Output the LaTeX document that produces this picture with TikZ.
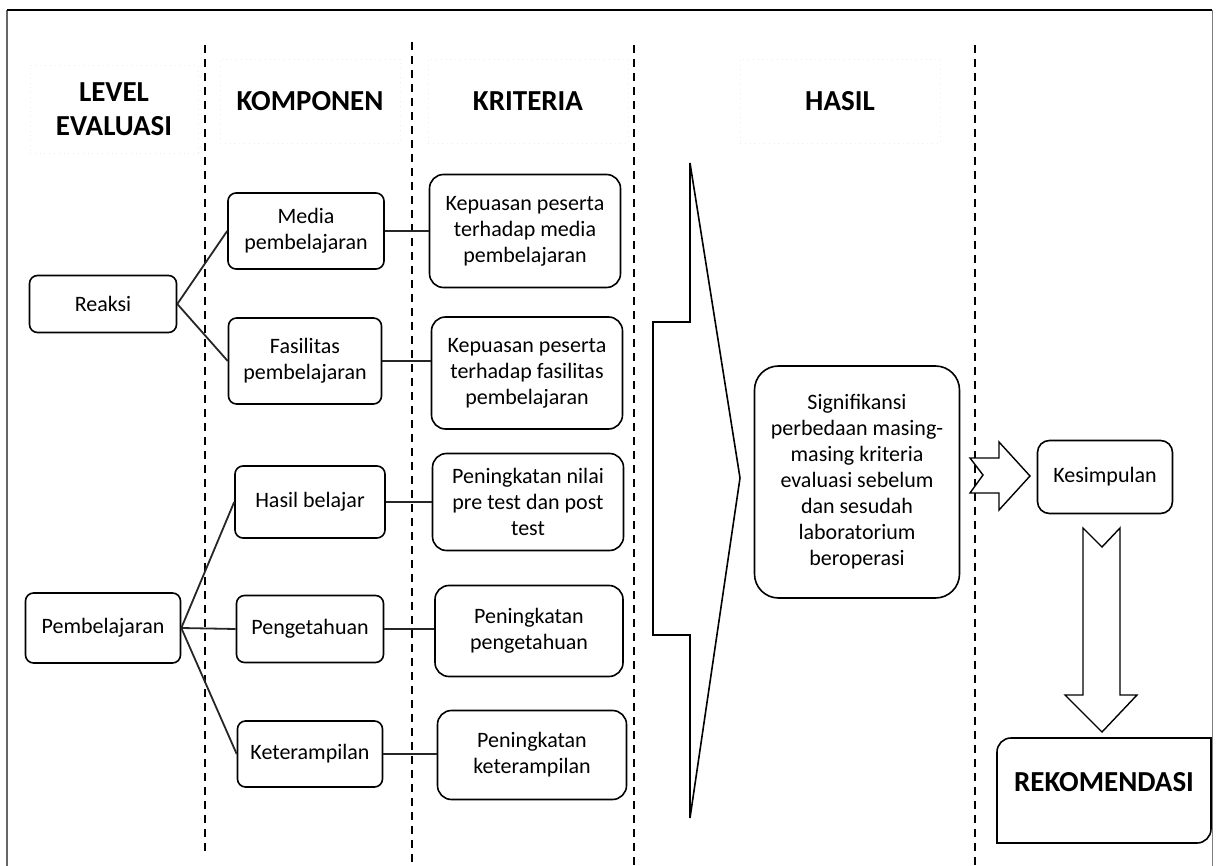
\documentclass[tikz,border=0pt]{standalone}
\usepackage{fontspec}
\setmainfont{Carlito}
\tikzset{
  box/.style={draw, line width=0.8pt, rounded corners=4pt, align=center, inner sep=0pt,
    font=\fontsize{11}{13}\selectfont},
  bigbox/.style={box, rounded corners=7pt},
  head/.style={draw=black!7, dotted, align=center, inner sep=0pt,
    font=\bfseries\fontsize{14.5}{17}\selectfont},
  divider/.style={dashed, line width=0.8pt, dash pattern=on 4pt off 3pt},
  link/.style={line width=0.9pt, black!85},
  hollow/.style={draw, line width=0.7pt, fill=white}
}
\begin{document}
\begin{tikzpicture}[x=0.5pt, y=-0.5pt]
\useasboundingbox (0,0) rectangle (1216,866);
% frame
\draw[black!60, line width=0.6pt] (7,866) -- (7,10);
\draw[black!50, line width=0.5pt] (1212,10) -- (1212,866);
\draw[line width=1.4pt] (7,10) -- (1212,10);
% columns
\draw[divider] (205,45) -- (205,855);
\draw[divider] (412,42) -- (412,866);
\draw[divider] (634,45) -- (634,866);
\draw[divider] (975,45) -- (975,866);
% headings
\node[head, minimum width=84pt, minimum height=44pt] (hlevel) at (114,109) {LEVEL\\EVALUASI};
\node[head, minimum width=90pt, minimum height=42pt] (hkomp) at (310,101) {KOMPONEN};
\node[head, minimum width=100pt, minimum height=42pt] (hkrit) at (528,101) {KRITERIA};
\node[head, minimum width=100pt, minimum height=42pt] (hhasil) at (840,101) {HASIL};
% level
\node[box, minimum width=73.5pt, minimum height=28.5pt] (reaksi) at (103,304) {Reaksi};
\node[box, minimum width=77.5pt, minimum height=35pt] (pemb) at (103,628) {Pembelajaran};
% komponen
\node[box, minimum width=78pt, minimum height=38pt] (media) at (306,231) {Media\\pembelajaran};
\node[box, minimum width=76.5pt, minimum height=43pt] (fasil) at (305,361) {Fasilitas\\pembelajaran};
\node[box, minimum width=75pt, minimum height=36pt] (hbel) at (310,502) {Hasil belajar};
\node[box, minimum width=73.5pt, minimum height=33.5pt] (penget) at (310,629) {Pengetahuan};
\node[box, minimum width=72.5pt, minimum height=33pt] (ketr) at (310,754) {Keterampilan};
% kriteria
\node[bigbox, minimum width=95.5pt, minimum height=56.5pt] (kmedia) at (525,231) {Kepuasan peserta\\terhadap media\\pembelajaran};
\node[bigbox, minimum width=95.5pt, minimum height=56pt] (kfasil) at (527,373) {Kepuasan peserta\\terhadap fasilitas\\pembelajaran};
\node[bigbox, minimum width=95.5pt, minimum height=48.5pt] (knilai) at (528,502) {Peningkatan nilai\\pre test dan post\\test};
\node[bigbox, minimum width=94pt, minimum height=45.5pt] (kpeng) at (529,631) {Peningkatan\\pengetahuan};
\node[bigbox, minimum width=94.5pt, minimum height=44.5pt] (kketr) at (532,755) {Peningkatan\\keterampilan};
% hasil
\node[box, rounded corners=12pt, minimum width=102.5pt, minimum height=116pt] (signif) at (857,482)
  {Signifikansi\\perbedaan masing-\\masing kriteria\\evaluasi sebelum\\dan sesudah\\laboratorium\\beroperasi};
\node[box, rounded corners=6pt, minimum width=67.5pt, minimum height=36.5pt] (simpul) at (1105,477) {Kesimpulan};
\draw[line width=0.8pt] (997,843) -- (997,752) arc (180:270:14) -- (1211,738) -- (1211,829) arc (0:90:14) -- cycle;
\node[font=\bfseries\fontsize{14.5}{17}\selectfont] (rekom) at (1104,782) {REKOMENDASI};
% links
\draw[link] (reaksi.east) -- (media.west);
\draw[link] (reaksi.east) -- (fasil.west);
\draw[link] (pemb.east) -- (hbel.west);
\draw[link] (pemb.east) -- (penget.west);
\draw[link] (pemb.east) -- (ketr.west);
\draw[link] (media.east) -- (kmedia.west |- media.east);
\draw[link] (fasil.east) -- (kfasil.west |- fasil.east);
\draw[link] (hbel.east) -- (knilai.west |- hbel.east);
\draw[link] (penget.east) -- (kpeng.west |- penget.east);
\draw[link] (ketr.east) -- (kketr.west |- ketr.east);
% big arrow
\draw[line width=0.8pt] (690,163) -- (740,478) -- (690,818) -- (690,635) -- (653,635) -- (653,322) -- (690,322) -- cycle;
% arrow to kesimpulan
\draw[hollow] (970,458) -- (999,458) -- (999,442) -- (1030,476) -- (999,510) -- (999,493)
  -- (970,493) -- (983,475) -- cycle;
% arrow to rekomendasi
\draw[hollow] (1083,528) -- (1102,547) -- (1120,528) -- (1120,695) -- (1137,695)
  -- (1102,732) -- (1065,695) -- (1083,695) -- cycle;
\end{tikzpicture}
\end{document}
